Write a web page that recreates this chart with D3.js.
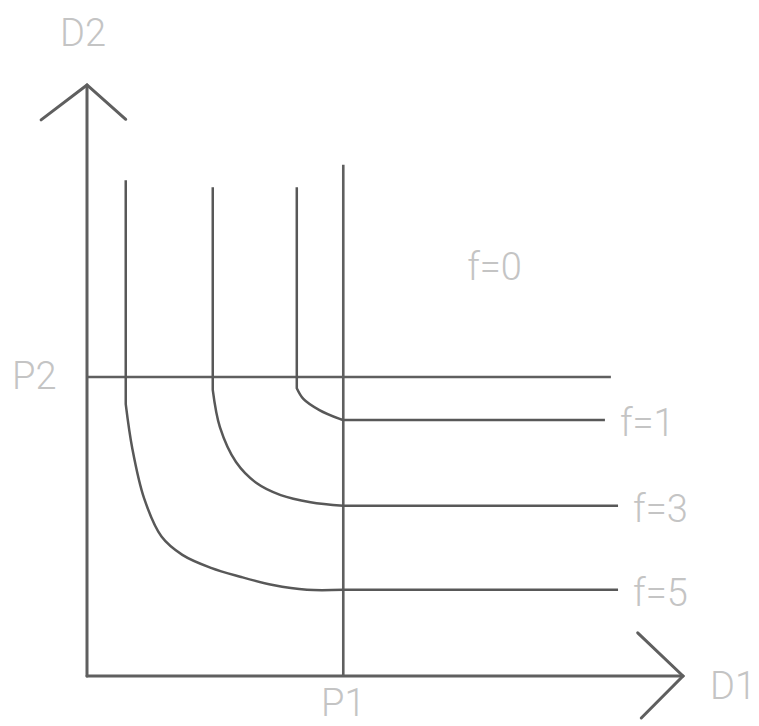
<!DOCTYPE html>
<html><head><meta charset="utf-8">
<script src="https://cdn.jsdelivr.net/npm/d3@7"></script>
<style>body{margin:0;background:#fff}svg{display:block}</style>
</head><body>
<script>
// Reference levels
const P1 = 43.0;
const P2 = 50.6;
// Iso-curves (D1, D2) in axis units: first point = top of vertical part,
// last point = end of horizontal part, points between = the bend
const curveLabels = ["f=1", "f=3", "f=5"];
const curveF1 = [[35.2,82.7],[35.2,48.7],[36.3,46.9],[39.0,45.0],[42.4,43.5],[43.0,43.3],[86.9,43.3]];
const curveF3 = [[21.1,82.7],[21.1,48.4],[22.3,42.1],[25.0,36.2],[28.5,32.6],[32.5,30.6],[37.5,29.4],[43.0,28.8],[89.1,28.8]];
const curveF5 = [[6.5,83.9],[6.5,46.0],[7.6,38.5],[9.6,30.0],[12.5,23.6],[16.0,20.5],[20.8,18.3],[25.7,16.8],[31.2,15.4],[36.9,14.6],[43.0,14.6],[89.1,14.6]];
const f0Label = {text:"f=0", x:63.8, y:67};
const axisLabels = {x:"D1", y:"D2", p1:"P1", p2:"P2"};
const xMax = 100, yMax = 100;
const pLineTop = 86.5, p2LineEnd = 87.9;

const W = 759, H = 726;
const svg = d3.select("body").append("svg").attr("width", W).attr("height", H);
const x = d3.scaleLinear().domain([0, xMax]).range([87, 683]);
const y = d3.scaleLinear().domain([0, yMax]).range([676, 85]);

const axisColor = "#5f5f5f", lineColor = "#585858", textColor = "#c4c4c4";
const font = "Roboto, 'Liberation Sans', sans-serif";

// axes
const axes = svg.append("g").attr("stroke", axisColor).attr("stroke-width", 3).attr("fill", "none").attr("stroke-linecap","round");
axes.append("line").attr("x1", x(0)).attr("y1", y(0)).attr("x2", x(0)).attr("y2", y(yMax));
axes.append("line").attr("x1", x(0)).attr("y1", y(0)).attr("x2", x(xMax)).attr("y2", y(0));
const line = d3.line().x(d => x(d[0])).y(d => y(d[1]));
axes.append("path").attr("d", line([[-7.7, 94.1],[0, yMax],[6.5, 94.2]]));
axes.append("path").attr("d", line([[92.4, 7.3],[xMax, 0],[93.0, -7.1]]));

// P lines
const pl = svg.append("g").attr("stroke", axisColor).attr("stroke-width", 2.6).attr("fill","none");
pl.append("line").attr("x1", x(P1)).attr("x2", x(P1)).attr("y1", y(0)).attr("y2", y(pLineTop));
pl.append("line").attr("x1", x(0)).attr("x2", x(p2LineEnd)).attr("y1", y(P2)).attr("y2", y(P2));

// curves: straight vertical, smooth bend, straight horizontal
const smooth = d3.line().x(d => x(d[0])).y(d => y(d[1])).curve(d3.curveCatmullRom.alpha(0.5));
const curves = [curveF1, curveF3, curveF5];
const curvePath = d => {
  const n = d.length;
  const bend = smooth(d.slice(1, n - 1));
  return "M" + x(d[0][0]) + "," + y(d[0][1]) + "L" + bend.slice(1) + "L" + x(d[n-1][0]) + "," + y(d[n-1][1]);
};
svg.append("g").selectAll("path").data(curves).join("path")
  .attr("d", curvePath).attr("fill","none").attr("stroke", lineColor).attr("stroke-width", 2.5).attr("stroke-linejoin","round");

// text
const txt = svg.append("g").attr("fill", textColor).attr("font-family", font).attr("font-weight", 300).attr("font-size", 38);
txt.selectAll("text.f").data(curves).join("text").attr("class","f")
  .attr("x", d => x(d[d.length-1][0]) + 15).attr("y", d => y(d[d.length-1][1]) + 16)
  .text((d,i) => curveLabels[i]);
txt.append("text").attr("x", x(f0Label.x)).attr("y", y(f0Label.y)).text(f0Label.text);
txt.append("text").attr("x", x(P1)).attr("y", 716).attr("text-anchor","middle").text(axisLabels.p1);
txt.append("text").attr("x", 12).attr("y", y(P2) + 12).text(axisLabels.p2);
txt.append("text").attr("x", 60).attr("y", 46).text(axisLabels.y);
txt.append("text").attr("x", 710).attr("y", 699).text(axisLabels.x);
</script>
</body></html>
